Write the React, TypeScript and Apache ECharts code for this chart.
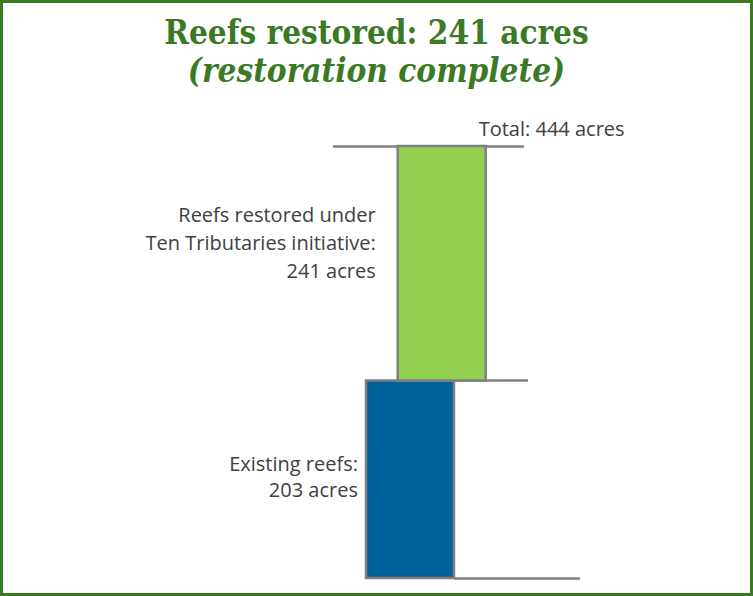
import React, { useEffect, useRef } from "react";
import * as echarts from "echarts";

// ---- data ----
const existingAcres = 203;
const restoredAcres = 241;
const totalAcres = existingAcres + restoredAcres;
const barNames = ["Existing reefs", "Reefs restored under Ten Tributaries initiative"];
const barLabels = [
  ["Existing reefs:", `${existingAcres} acres`],
  ["Reefs restored under", "Ten Tributaries initiative:", `${restoredAcres} acres`],
];
const barBases = [0, existingAcres];
const barTops = [existingAcres, totalAcres];
const titleLine1 = `Reefs restored: ${restoredAcres} acres`;
const titleLine2 = "(restoration complete)";
const totalLabel = `Total: ${totalAcres} acres`;

// ---- layout / style (not data) ----
const barXPos = [1, 1.36];
const barColors = ["#00629b", "#92d050"];
const labelGap = [8, 22];
const labelDy = [-3, -21];
const labelLineHeight = [26, 28];
const GREEN = "#3b7a25";
const GREY_TEXT = "#404040";
const LABEL_FONT = "'Open Sans', sans-serif";
const LABEL_SIZE = 20;

export default function App() {
  const ref = useRef<HTMLDivElement>(null);
  useEffect(() => {
    if (!ref.current) return;
    const chart = echarts.init(ref.current, null, { renderer: "svg" });
    const data = barNames.map((n, i) => ({
      name: n,
      value: [barXPos[i], barBases[i], barTops[i]],
    }));
    chart.setOption({
      animation: false,
      backgroundColor: "#ffffff",
      grid: { left: 322, width: 352, top: 146, height: 432 },
      xAxis: { type: "value", min: 0, max: 4, show: false },
      yAxis: { type: "value", min: 0, max: totalAcres, show: false },
      title: {
        text: titleLine1,
        subtext: titleLine2,
        left: "center",
        top: 8,
        itemGap: 0,
        textStyle: {
          fontFamily: "'DejaVu Serif Condensed', 'DejaVu Serif', serif",
          fontWeight: "bold",
          fontSize: 33,
          color: GREEN,
          lineHeight: 38,
        },
        subtextStyle: {
          fontFamily: "'DejaVu Serif Condensed', 'DejaVu Serif', serif",
          fontWeight: "bold",
          fontStyle: "italic",
          fontSize: 33,
          color: GREEN,
          lineHeight: 38,
        },
      },
      graphic: [
        {
          type: "rect",
          shape: { x: 1.5, y: 1.5, width: 750, height: 593 },
          style: { fill: "none", stroke: GREEN, lineWidth: 3 },
          silent: true,
        },
      ],
      series: [
        {
          type: "custom",
          data,
          renderItem: (params: any, api: any) => {
            const i = params.dataIndex;
            const x = api.value(0);
            const p0 = api.coord([x, api.value(1)]);
            const p1 = api.coord([x, api.value(2)]);
            const w = api.size([1, 0])[0];
            const left = p0[0] - w / 2;
            const right = p0[0] + w / 2;
            const lines = barLabels[i];
            const children: any[] = [
              {
                type: "rect",
                shape: { x: left, y: p1[1], width: w, height: p0[1] - p1[1] },
                style: { fill: barColors[i], stroke: "#7f7f7f", lineWidth: 2.5 },
              },
              {
                type: "text",
                style: {
                  text: lines.join("\n"),
                  x: left - labelGap[i],
                  y: (p0[1] + p1[1]) / 2 + labelDy[i],
                  align: "right",
                  verticalAlign: "middle",
                  fontFamily: LABEL_FONT,
                  fontSize: LABEL_SIZE,
                  lineHeight: labelLineHeight[i],
                  fill: GREY_TEXT,
                },
              },
            ];
            if (i === barNames.length - 1) {
              children.push({
                type: "text",
                style: {
                  text: totalLabel,
                  x: right - 7,
                  y: p1[1] - 18,
                  align: "left",
                  verticalAlign: "middle",
                  fontFamily: LABEL_FONT,
                  fontSize: LABEL_SIZE,
                  fill: GREY_TEXT,
                },
              });
            }
            return { type: "group", children };
          },
          z: 3,
          markLine: {
            silent: true,
            symbol: "none",
            z: 2,
            label: { show: false },
            lineStyle: { color: "#808080", width: 2.5, type: "solid" },
            data: [
              [{ coord: [0.125, totalAcres] }, { coord: [2.295, totalAcres] }],
              [{ coord: [1.5, existingAcres] }, { coord: [2.34, existingAcres] }],
              [{ coord: [1.5, 0] }, { coord: [2.93, 0] }],
            ],
          },
        },
      ],
    });
    return () => chart.dispose();
  }, []);
  return (
    <div
      ref={ref}
      style={{ position: "absolute", left: 0, top: 0, width: 753, height: 596 }}
    />
  );
}
